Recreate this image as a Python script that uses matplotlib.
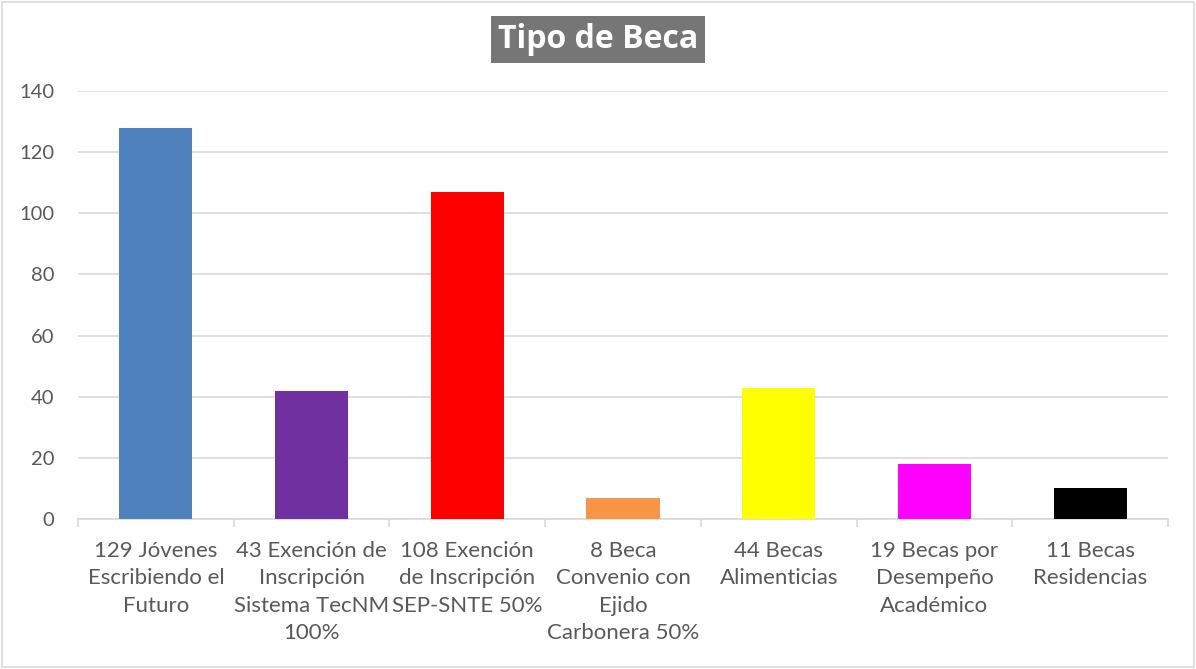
import matplotlib
matplotlib.use('Agg')
import matplotlib.pyplot as plt
import numpy as np

categories = ['129 Jóvenes\nEscribiendo el\nFuturo',
              '43 Exención de\nInscripción\nSistema TecNM\n100%',
              '108 Exención\nde Inscripción\nSEP-SNTE 50%',
              '8 Beca\nConvenio con\nEjido\nCarbonera 50%',
              '44 Becas\nAlimenticias',
              '19 Becas por\nDesempeño\nAcadémico',
              '11 Becas\nResidencias']
values = [128, 42, 107, 7, 43, 18, 10]
colors = ['#4f81bd', '#7030a0', '#ff0000', '#f79646', '#ffff00', '#ff00ff', '#000000']
yticks = [0, 20, 40, 60, 80, 100, 120, 140]

plt.rcParams['font.family'] = ['Lato', 'DejaVu Sans']

fig = plt.figure(figsize=(11.96, 6.69), dpi=100)
ax = fig.add_axes([0.0652, 0.2242, 0.9114, 0.6398])

x = np.arange(len(categories))
ax.bar(x, values, width=0.47, color=colors, zorder=3)

ax.set_xlim(-0.5, len(categories) - 0.5)
ax.set_ylim(0, 140)
ax.set_yticks(yticks)
ax.grid(axis='y', color='#d9d9d9', linewidth=1.2, zorder=0)
ax.tick_params(axis='y', length=0, labelsize=14.5, labelcolor='#595959', pad=17)

ax.set_xticks(x)
ax.set_xticklabels(categories, fontsize=16, color='#595959', linespacing=1.45)
ax.set_xticks(np.arange(-0.5, len(categories)), minor=True)
ax.tick_params(axis='x', which='major', length=0, pad=16)
ax.tick_params(axis='x', which='minor', length=6, color='#d9d9d9', width=1.2)

for s in ['top', 'right', 'left']:
    ax.spines[s].set_visible(False)
ax.spines['bottom'].set_color('#d9d9d9')
ax.spines['bottom'].set_linewidth(1.2)

fig.text(0.5, 0.9405, 'Tipo de Beca', ha='center', va='center', fontsize=23,
         fontweight='bold', color='white', family=['Open Sans', 'DejaVu Sans'],
         bbox=dict(boxstyle='square,pad=0.22', facecolor='#767676', edgecolor='none'))

border = plt.Rectangle((0.002, 0.003), 0.996, 0.994, transform=fig.transFigure,
                       fill=False, edgecolor='#d9d9d9', linewidth=1.2)
fig.patches.append(border)

fig.savefig('out.png', dpi=100)
